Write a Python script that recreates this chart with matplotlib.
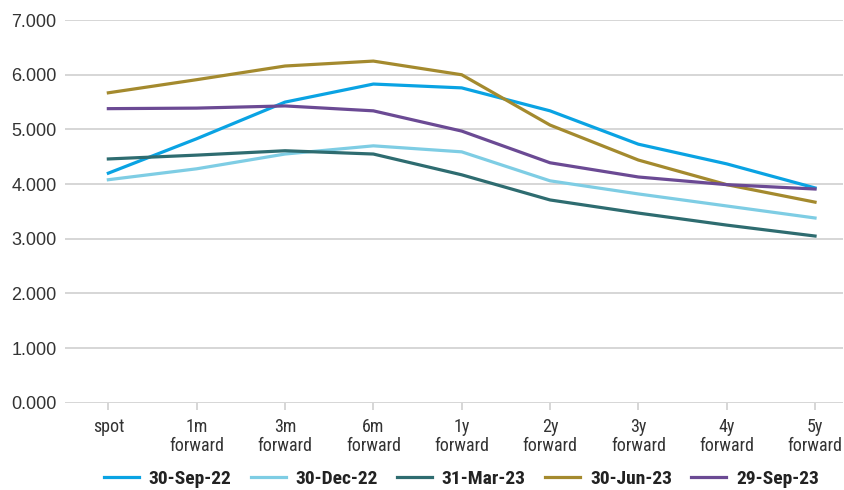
import matplotlib.pyplot as plt

categories = ["spot", "1m\nforward", "3m\nforward", "6m\nforward", "1y\nforward",
              "2y\nforward", "3y\nforward", "4y\nforward", "5y\nforward"]

sep_22 = [4.20, 4.83, 5.50, 5.83, 5.76, 5.34, 4.73, 4.37, 3.93]
dec_22 = [4.08, 4.28, 4.55, 4.70, 4.59, 4.06, 3.82, 3.60, 3.38]
mar_23 = [4.46, 4.53, 4.61, 4.55, 4.17, 3.71, 3.47, 3.25, 3.05]
jun_23 = [5.67, 5.91, 6.16, 6.25, 6.00, 5.08, 4.44, 3.99, 3.67]
sep_23 = [5.38, 5.39, 5.43, 5.34, 4.97, 4.39, 4.13, 3.99, 3.91]

series_names = ["30-Sep-22", "30-Dec-22", "31-Mar-23", "30-Jun-23", "29-Sep-23"]
series_values = [sep_22, dec_22, mar_23, jun_23, sep_23]
colors = ["#0AA3E3", "#7ECDE4", "#2E6C70", "#A48A2E", "#6B4A94"]

COND = ["Roboto Condensed", "DejaVu Sans"]

fig = plt.figure(figsize=(8.45, 4.9), dpi=100)
ax = fig.add_axes([0.077, 0.178, 0.921, 0.781])

x = list(range(len(categories)))
for name, vals, col in zip(series_names, series_values, colors):
    ax.plot(x, vals, color=col, linewidth=2.3, label=name)

ax.set_ylim(0, 7)
ax.set_xlim(-0.49, 8.32)
ax.set_yticks(range(0, 8))
ax.set_yticklabels([f"{v:.3f}" for v in range(0, 8)],
                   fontsize=13, color="#333333", family="Liberation Sans")
ax.set_xticks(x)
ax.set_xticklabels(categories, fontsize=13, color="#333333", family=COND,
                   linespacing=1.05)
ax.grid(axis="y", color="#d0d0d0", linewidth=1.2)
ax.set_axisbelow(True)
for s in ax.spines.values():
    s.set_visible(False)
ax.tick_params(axis="y", length=0, pad=6)
ax.tick_params(axis="x", length=5, color="#d0d0d0", width=1.2, pad=6)

handles, labels = ax.get_legend_handles_labels()
leg = fig.legend(handles, labels, loc="center", bbox_to_anchor=(0.546, 0.022), ncol=5,
                 frameon=False, handlelength=1.8, handletextpad=0.5, columnspacing=1.0,
                 borderpad=0.0, prop={"family": COND, "weight": "bold", "size": 14})
for t in leg.get_texts():
    t.set_color("#222222")

fig.savefig("out.png", dpi=100)
